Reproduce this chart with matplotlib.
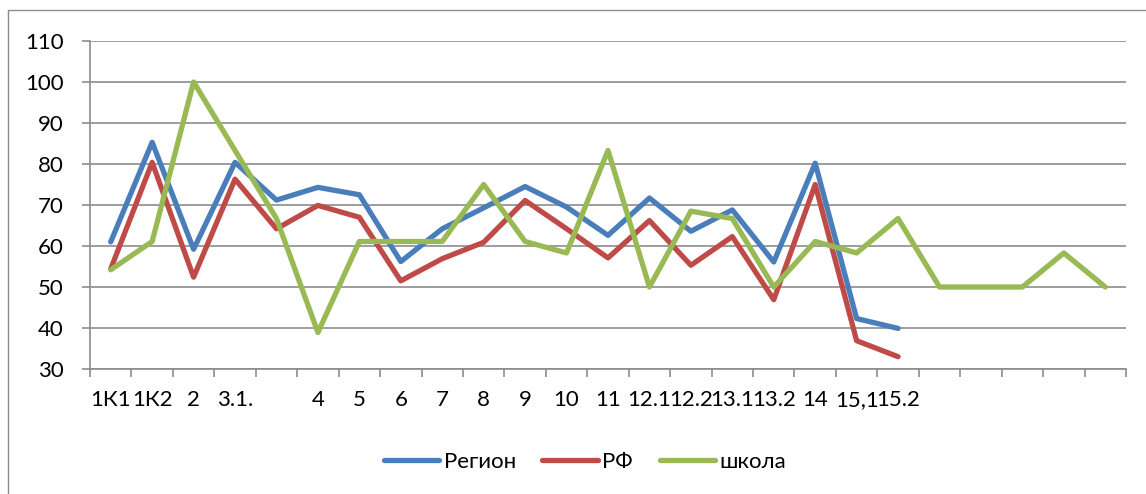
import matplotlib
matplotlib.use("Agg")
import matplotlib.pyplot as plt
from matplotlib.patches import Rectangle
import numpy as np

plt.rcParams['font.family'] = ['Lato', 'Open Sans', 'DejaVu Sans']

categories = ["1К1", "1К2", "2", "3.1.", "", "4", "5", "6", "7", "8", "9", "10",
              "11", "12.1", "12.2", "13.1", "13.2", "14", "15,1", "15.2",
              "", "", "", "", ""]
region = [61.0, 85.3, 59.2, 80.4, 71.2, 74.3, 72.5, 56.2, 64.2, 69.3, 74.5, 69.5,
          62.6, 71.7, 63.6, 68.8, 56.1, 80.2, 42.3, 39.9]
rf = [54.4, 80.4, 52.4, 76.3, 64.2, 69.9, 67.0, 51.5, 56.9, 60.9, 71.1, 64.2,
      57.1, 66.2, 55.3, 62.3, 46.9, 75.0, 36.9, 33.0]
school = [54.2, 61.1, 100.0, 83.3, 66.7, 38.9, 61.1, 61.1, 61.1, 75.0, 61.1, 58.3,
          83.3, 50.0, 68.5, 66.7, 50.0, 61.1, 58.3, 66.7, 50.0, 50.0, 50.0, 58.3, 50.0]
series_names = ["Регион", "РФ", "школа"]
colors = ["#4A7EBB", "#BE4B48", "#98B954"]
yticks = [30, 40, 50, 60, 70, 80, 90, 100, 110]

W, H = 1146, 494
FS = 16
fig = plt.figure(figsize=(W / 100, H / 100), dpi=100)
fig.patch.set_facecolor("white")

# outer chart border
fig.add_artist(Rectangle((8 / W, -0.05), 1.2, 1 - 10 / H + 0.05,
                         transform=fig.transFigure, fill=False,
                         edgecolor="#8C8C8C", linewidth=1.0))

ax = fig.add_axes([90 / W, (H - 369) / H, (1126 - 90) / W, (369 - 41) / H])
ax.set_facecolor("white")

x = np.arange(len(categories))
gray = "#8C8C8C"
for vals, name, c in zip([region, rf, school], series_names, colors):
    xs = np.arange(len(vals))
    ax.plot(xs, vals, color=c, linewidth=3.8, label=name,
            solid_capstyle="round", solid_joinstyle="round", zorder=3)

ax.set_xlim(-0.5, len(categories) - 0.5)
ax.set_ylim(30, 110)
ax.set_yticks(yticks)
ax.yaxis.grid(True, color=gray, linewidth=1.2, zorder=0)
ax.set_axisbelow(True)

ax.set_xticks(np.arange(len(categories) + 1) - 0.5)
ax.set_xticklabels([])
ax.set_xticks(x, minor=True)
ax.set_xticklabels(categories, minor=True)
ax.tick_params(axis="x", which="major", length=6, width=1.2, color=gray, direction="out")
ax.tick_params(axis="x", which="minor", length=0, pad=15, labelsize=FS)
ax.tick_params(axis="y", length=6, width=1.2, color=gray, direction="out",
               pad=13, labelsize=FS)

for s in ["top", "right"]:
    ax.spines[s].set_visible(False)
for s in ["left", "bottom"]:
    ax.spines[s].set_color(gray)
    ax.spines[s].set_linewidth(1.2)

leg = fig.legend(loc="center", bbox_to_anchor=(585 / W, 1 - 462 / H), ncol=3,
                 frameon=False, fontsize=FS, handlelength=2.5, handletextpad=0.2,
                 columnspacing=1.2)

fig.savefig("out.png", dpi=100, facecolor="white")
